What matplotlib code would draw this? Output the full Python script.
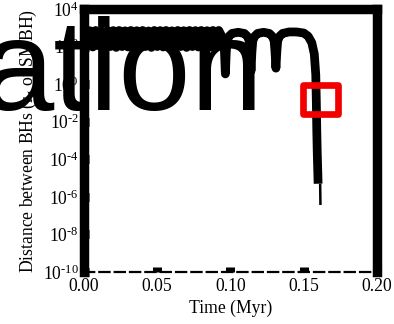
import math
import matplotlib
matplotlib.use("Agg")
import matplotlib.pyplot as plt
from matplotlib.patches import Rectangle
from matplotlib.ticker import FixedLocator, FormatStrFormatter, FuncFormatter, NullLocator

plt.rcParams['font.family'] = ['Liberation Serif', 'DejaVu Serif']
plt.rcParams['mathtext.fontset'] = 'custom'
plt.rcParams['mathtext.rm'] = 'Liberation Serif'
plt.rcParams['mathtext.it'] = 'Liberation Serif:italic'
plt.rcParams['mathtext.bf'] = 'Liberation Serif:bold'

# Early phase: fast, tight oscillations of the BH separation
band_t = [0.000, 0.002, 0.004, 0.006, 0.008, 0.010, 0.012, 0.014, 0.016, 0.018,
          0.020, 0.022, 0.024, 0.026, 0.028, 0.030, 0.032, 0.034, 0.036, 0.038,
          0.040, 0.042, 0.044, 0.046, 0.048, 0.050, 0.052, 0.054, 0.056, 0.058,
          0.060, 0.062, 0.064, 0.066, 0.068, 0.070, 0.072, 0.074, 0.076, 0.078,
          0.080, 0.082, 0.084, 0.086, 0.088, 0.090, 0.092]
band_r = [7.2e2, 1.0e2, 7.0e2, 9.5e1, 7.2e2, 1.1e2, 6.8e2, 9.5e1, 7.2e2, 1.0e2,
          7.1e2, 9.0e1, 7.2e2, 1.0e2, 6.9e2, 9.5e1, 7.2e2, 1.1e2, 7.0e2, 9.5e1,
          7.2e2, 1.0e2, 6.8e2, 9.0e1, 7.2e2, 1.0e2, 7.1e2, 9.5e1, 7.2e2, 1.1e2,
          6.9e2, 9.5e1, 7.2e2, 1.0e2, 7.0e2, 9.0e1, 7.2e2, 1.0e2, 7.1e2, 9.5e1,
          7.2e2, 1.1e2, 7.0e2, 9.5e1, 7.2e2, 1.0e2, 7.2e2]

# Later phase: wide eccentric orbits, then the final inspiral
orbit_t = [0.0940, 0.0953, 0.0959, 0.0965, 0.0971, 0.0977, 0.0990, 0.1010,
           0.1052, 0.1095, 0.1115, 0.1128, 0.1134, 0.1140, 0.1146, 0.1152,
           0.1165, 0.1185, 0.1225, 0.1265, 0.1285, 0.1298, 0.1304, 0.1310,
           0.1316, 0.1322, 0.1335, 0.1355, 0.1400, 0.1450, 0.1500, 0.1530,
           0.1555, 0.1572, 0.1582, 0.1586, 0.1589, 0.1592, 0.1598]
orbit_r = [3.55e2, 2.0e2, 5.0e1, 3.5e0, 5.0e1, 2.0e2, 3.55e2, 5.0e2,
           5.75e2, 5.0e2, 3.55e2, 2.0e2, 5.0e1, 5.0e0, 5.0e1, 2.0e2,
           3.55e2, 5.0e2, 5.75e2, 5.0e2, 3.55e2, 2.0e2, 5.0e1, 7.1e0,
           5.0e1, 2.0e2, 3.55e2, 5.0e2, 6.0e2, 6.0e2, 5.25e2, 3.55e2,
           1.6e2, 4.0e1, 3.2e0, 1.0e-1, 3.2e-3, 2.5e-4, 5.0e-6]

# Last resolved steps before coalescence
tail_t = [0.1612, 0.1614]
tail_r = [5.0e-6, 3.7e-7]

# Highlighted window around the plunge
box_t = [0.1498, 0.1737]
box_r = [2.45e-2, 8.5e-1]

x_ticks = [0.00, 0.05, 0.10, 0.15, 0.20]
y_ticks = [1e-10, 1e-8, 1e-6, 1e-4, 1e-2, 1e0, 1e2, 1e4]


def decade_label(value, pos):
    exponent = int(round(math.log10(value)))
    sign = '\u2010' if exponent < 0 else ''
    return '$10^{%s%d}$' % (sign, abs(exponent))


fig = plt.figure(figsize=(3.94, 3.24), dpi=100)
ax = fig.add_axes([84 / 394, 1 - 272 / 324, 293 / 394, 263 / 324])

ax.plot(band_t + orbit_t, band_r + orbit_r, color='black', lw=6.3,
        solid_joinstyle='round', solid_capstyle='butt', zorder=2)
ax.plot(tail_t, tail_r, color='black', lw=1.8, solid_capstyle='butt', zorder=2)

ax.add_patch(Rectangle((box_t[0], box_r[0]), box_t[1] - box_t[0],
                       box_r[1] - box_r[0], fill=False, edgecolor='#f20000',
                       lw=4.8, joinstyle='round', zorder=3, clip_on=False))

ax.set_yscale('log')
ax.set_xlim(0.0, 0.2)
ax.set_ylim(1e-10, 1e4)
ax.xaxis.set_major_locator(FixedLocator(x_ticks))
ax.xaxis.set_major_formatter(FormatStrFormatter('%.2f'))
ax.yaxis.set_major_locator(FixedLocator(y_ticks))
ax.yaxis.set_major_formatter(FuncFormatter(decade_label))
ax.yaxis.set_minor_locator(NullLocator())

for side in ('left', 'top', 'right'):
    ax.spines[side].set_linewidth(6.8)
ax.spines['bottom'].set_linewidth(1.6)
ax.spines['bottom'].set_linestyle((0, (4.6, 2.3)))

ax.tick_params(axis='both', which='major', direction='in', length=3.5,
               width=6.5, labelsize=12.7, pad=4.5, top=False, right=False)
ax.tick_params(axis='y', pad=3.6)

ax.set_xlabel('Time (Myr)', fontsize=12.7, labelpad=3)
ax.set_ylabel('Distance between BHs (r$_\\mathrm{g}$ of SMBH)', fontsize=12.7)
ax.yaxis.set_label_coords(-0.147, 0.5)

fig.text(-18.8 / 394, 1 - 110 / 324, 'ation', family='Liberation Sans',
         fontsize=93.6, color='black', ha='left', va='baseline', zorder=10)

fig.savefig('out.png', dpi=100)
